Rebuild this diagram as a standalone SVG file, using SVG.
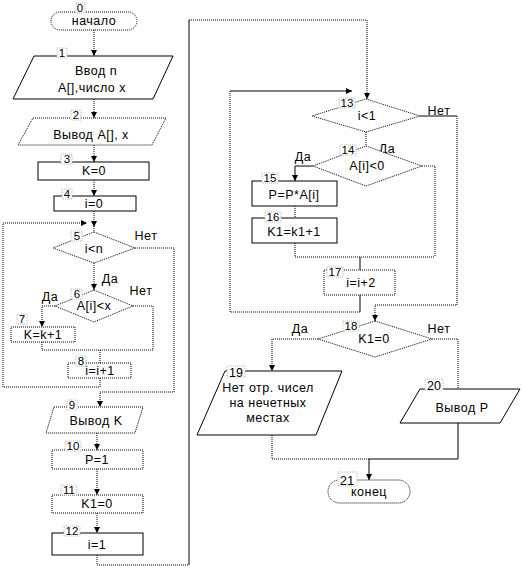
<svg xmlns="http://www.w3.org/2000/svg" width="522" height="570" viewBox="0 0 522 570">
<defs>
<marker id="ar" markerUnits="userSpaceOnUse" markerWidth="7" markerHeight="7" refX="6" refY="3" orient="auto">
<path d="M0,0 L6,3 L0,6 z" fill="#000"/>
</marker>
<style>
.s{fill:#fff;stroke:#000;stroke-width:1}
.d{fill:#fff;stroke:#000;stroke-width:1;stroke-dasharray:1 1}
.c{fill:none;stroke:#000;stroke-width:1;stroke-dasharray:1 1}
.cs{fill:none;stroke:#000;stroke-width:1}
.a{marker-end:url(#ar)}
text{font-family:"Liberation Sans",Arial,sans-serif;font-size:12.5px;letter-spacing:0.5px;fill:#000}
.t{text-anchor:middle}
.n{text-anchor:middle;font-size:11.5px;letter-spacing:0}
.lb{fill:#fff;stroke:#bbb;stroke-width:1;stroke-dasharray:1 1}
</style>
</defs>
<rect width="522" height="570" fill="#fff"/>
<g id="connectors">
<path class="c a" d="M94,30 V56"/>
<path class="c a" d="M94,99 V118"/>
<path class="c a" d="M94,145 V162"/>
<path class="c a" d="M94,180 V196"/>
<path class="c a" d="M94,211 V227"/>
<path class="c" d="M94,226 V232"/>
<path class="c a" d="M100,378 V387 H3 V223 H87"/>
<path class="c a" d="M135,248 H174 V392 H100 V407"/>
<path class="c a" d="M94,263 V290"/>
<path class="c a" d="M55,306 H42 V327"/>
<path class="c" d="M133,306 H153 V350"/>
<path class="c" d="M42,342 V350 H153"/>
<path class="c" d="M100,350 V363"/>
<path class="c a" d="M97,433 V450"/>
<path class="c a" d="M97,469 V495"/>
<path class="c a" d="M97,513 V533"/>
<path class="c" d="M97,555 V565 H189"/>
<path class="cs" d="M189,565 V20"/>
<path class="c a" d="M189,20 H367 V99"/>
<path class="cs" d="M420,116 H457"/>
<path class="c a" d="M457,116 V305 H375 V321"/>
<path class="c" d="M366,132 V146"/>
<path class="cs a" d="M313,166 H295 V181"/>
<path class="c" d="M422,166 H435 V257"/>
<path class="c" d="M295,206 V218"/>
<path class="c" d="M295,243 V257 H435"/>
<path class="cs" d="M360,257 V270"/>
<path class="cs" d="M360,295 V312"/>
<path class="c" d="M360,312 H230 V91"/>
<path class="cs a" d="M230,91 H352"/>
<path class="c a" d="M318,339 H272 V371"/>
<path class="c" d="M432,339 H458 V389"/>
<path class="c" d="M272,435 V459 H369"/>
<path class="cs" d="M369,459 H458 V423"/>
<path class="cs a" d="M369,459 V480"/>
</g>
<g id="n0">
<rect class="d" x="51" y="12" width="86" height="18" rx="9"/>
<text class="t" x="94" y="25">начало</text>
<rect class="lb" x="76" y="3" width="9" height="10"/>
<text class="n" x="80" y="12">0</text>
</g>
<g id="n1">
<polygon class="s" points="34,56 173,56 153,99 13,99"/>
<text class="t" x="96" y="75">Ввод  n</text>
<text class="t" x="92" y="92">A[],число x</text>
<rect class="lb" x="57" y="48" width="10" height="10"/>
<text class="n" x="62" y="57">1</text>
</g>
<g id="n2">
<polygon class="d" points="33,118 166,118 152,145 18,145"/>
<text class="t" x="91" y="139">Вывод A[], x</text>
<rect class="lb" x="71" y="110" width="10" height="10"/>
<text class="n" x="76" y="119">2</text>
</g>
<g id="n3">
<rect class="s" x="38" y="162" width="111" height="18"/>
<text class="t" x="94" y="175">K=0</text>
<rect class="lb" x="61" y="154" width="11" height="10"/>
<text class="n" x="67" y="163">3</text>
</g>
<g id="n4">
<rect class="s" x="54" y="196" width="82" height="15"/>
<text class="t" x="94" y="208">i=0</text>
<rect class="lb" x="62" y="189" width="10" height="10"/>
<text class="n" x="67" y="198">4</text>
</g>
<g id="n5">
<polygon class="d" points="94,232 135,248 94,263 53,248"/>
<text class="t" x="94" y="253">i&lt;n</text>
<rect class="lb" x="71" y="231" width="11" height="10"/>
<text class="n" x="77" y="240">5</text>
<text class="t" x="146" y="240">Нет</text>
<text class="t" x="110" y="283">Да</text>
</g>
<g id="n6">
<polygon class="d" points="94,290 133,306 94,322 55,306"/>
<text class="t" x="94" y="310">A[i]&lt;x</text>
<rect class="lb" x="71" y="289" width="11" height="10"/>
<text class="n" x="77" y="298">6</text>
<text class="t" x="50" y="301">Да</text>
<text class="t" x="141" y="295">Нет</text>
</g>
<g id="n7">
<rect class="d" x="11" y="327" width="64" height="15"/>
<text class="t" x="43" y="339">K=k+1</text>
<rect class="lb" x="17" y="314" width="10" height="10"/>
<text class="n" x="22" y="323">7</text>
</g>
<g id="n8">
<rect class="d" x="68" y="363" width="63" height="15"/>
<text class="t" x="100" y="375">i=i+1</text>
<rect class="lb" x="76" y="356" width="10" height="10"/>
<text class="n" x="81" y="365">8</text>
</g>
<g id="n9">
<polygon class="d" points="54,407 143,407 135,433 46,433"/>
<text class="t" x="96" y="425">Вывод K</text>
<rect class="lb" x="67" y="400" width="10" height="10"/>
<text class="n" x="72" y="409">9</text>
</g>
<g id="n10">
<rect class="d" x="52" y="450" width="91" height="19"/>
<text class="t" x="97" y="464">P=1</text>
<rect class="lb" x="65" y="441" width="16" height="10"/>
<text class="n" x="73" y="450">10</text>
</g>
<g id="n11">
<rect class="d" x="52" y="495" width="91" height="18"/>
<text class="t" x="97" y="508">K1=0</text>
<rect class="lb" x="61" y="485" width="16" height="10"/>
<text class="n" x="69" y="494">11</text>
</g>
<g id="n12">
<rect class="s" x="52" y="533" width="91" height="22"/>
<text class="t" x="97" y="549">i=1</text>
<rect class="lb" x="64" y="526" width="16" height="10"/>
<text class="n" x="72" y="535">12</text>
</g>
<g id="n13">
<polygon class="d" points="366,99 420,116 366,132 312,116"/>
<text class="t" x="367" y="120">i&lt;1</text>
<rect class="lb" x="339" y="98" width="16" height="10"/>
<text class="n" x="347" y="107">13</text>
<text class="t" x="439" y="115">Нет</text>
<text class="t" x="387" y="153">Да</text>
</g>
<g id="n14">
<polygon class="d" points="366,146 422,166 366,186 313,166"/>
<text class="t" x="367" y="170">A[i]&lt;0</text>
<rect class="lb" x="340" y="145" width="16" height="10"/>
<text class="n" x="348" y="154">14</text>
<text class="t" x="303" y="161">Да</text>
</g>
<g id="n15">
<rect class="s" x="252" y="181" width="85" height="25"/>
<text class="t" x="294" y="199">P=P*A[i]</text>
<rect class="lb" x="262" y="173" width="16" height="10"/>
<text class="n" x="270" y="182">15</text>
</g>
<g id="n16">
<rect class="s" x="252" y="218" width="85" height="25"/>
<text class="t" x="294" y="236">K1=k1+1</text>
<rect class="lb" x="265" y="212" width="16" height="10"/>
<text class="n" x="273" y="221">16</text>
</g>
<g id="n17">
<rect class="d" x="324" y="270" width="71" height="25"/>
<text class="t" x="361" y="287">i=i+2</text>
<rect class="lb" x="327" y="267" width="16" height="10"/>
<text class="n" x="335" y="276">17</text>
</g>
<g id="n18">
<polygon class="d" points="375,321 432,339 375,357 318,339"/>
<text class="t" x="374" y="343">K1=0</text>
<rect class="lb" x="343" y="321" width="16" height="10"/>
<text class="n" x="351" y="330">18</text>
<text class="t" x="300" y="333">Да</text>
<text class="t" x="439" y="333">Нет</text>
</g>
<g id="n19">
<polygon class="s" points="225,371 342,371 316,435 197,435"/>
<text class="t" x="268" y="392">Нет отр. чисел</text>
<text class="t" x="268" y="407">на нечетных</text>
<text class="t" x="268" y="422">местах</text>
<rect class="lb" x="227" y="366" width="18" height="11"/>
<text class="t" x="236" y="377" style="letter-spacing:0">19</text>
</g>
<g id="n20">
<polygon class="s" points="420,389 520,389 500,423 400,423"/>
<text class="t" x="462" y="412">Вывод P</text>
<rect class="lb" x="425" y="379" width="18" height="11"/>
<text class="t" x="434" y="390" style="letter-spacing:0">20</text>
</g>
<g id="n21">
<rect class="d" x="328" y="480" width="82" height="23" rx="11.5"/>
<text class="t" x="369" y="496">конец</text>
<rect class="lb" x="338" y="472" width="19" height="14"/>
<text class="t" x="347" y="485" style="font-size:13px;letter-spacing:0">21</text>
</g>
</svg>
